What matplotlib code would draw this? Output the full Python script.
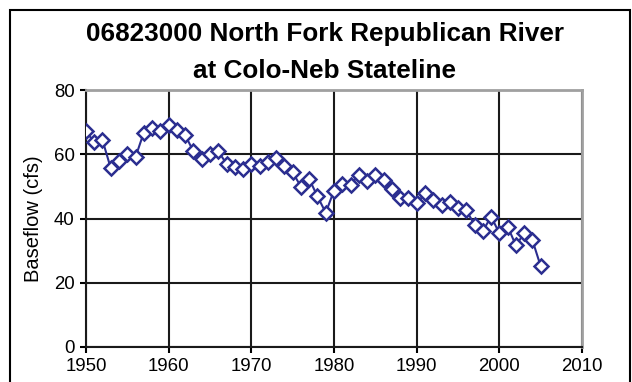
#!/usr/bin/env python3

import matplotlib
matplotlib.use("Agg")
import matplotlib.pyplot as plt
from matplotlib.patches import Rectangle

plt.rcParams["font.family"] = ["Liberation Sans", "DejaVu Sans"]

years = list(range(1950, 2006))
baseflow = [67.3, 63.7, 64.4, 55.7, 58.0, 60.2, 59.2, 66.8, 68.3, 67.3,
            69.1, 67.5, 66.0, 60.9, 58.5, 60.2, 60.9, 57.1, 56.1, 55.4,
            57.1, 56.4, 57.5, 58.8, 56.4, 54.4, 49.9, 52.3, 46.9, 41.8,
            48.7, 50.8, 50.5, 53.6, 51.6, 53.6, 52.1, 49.2, 46.4, 46.4,
            44.7, 47.8, 45.8, 44.2, 45.1, 43.3, 42.5, 38.1, 36.1, 40.6,
            35.4, 37.5, 31.6, 35.4, 33.2, 25.1]
xticks = [1950, 1960, 1970, 1980, 1990, 2000, 2010]
yticks = [0, 20, 40, 60, 80]

fig = plt.figure(figsize=(6.32, 3.82), dpi=100)
ax = fig.add_axes([0.136, 0.092, 0.785, 0.672])

# outer chart frame (bottom edge falls off the image)
fig.patches.append(Rectangle((10 / 632, -0.05), 620 / 632, 1.05 - 10 / 382,
                             transform=fig.transFigure, fill=False,
                             edgecolor="black", linewidth=1.5))

ax.plot(years, baseflow, color="#2b2e90", linewidth=1.5, marker="D",
        markersize=7, markerfacecolor="white", markeredgecolor="#2b2e90",
        markeredgewidth=1.8, zorder=3)

ax.set_xlim(1950, 2010)
ax.set_ylim(0, 80)
ax.set_xticks(xticks)
ax.set_yticks(yticks)
ax.grid(True, color="#1a1a1a", linewidth=1.5)
ax.set_axisbelow(True)
ax.tick_params(labelsize=13.4, length=4, width=1.5, direction="out", pad=4)
for side in ("left", "bottom"):
    ax.spines[side].set_color("#1a1a1a")
    ax.spines[side].set_linewidth(1.5)
for side in ("top", "right"):
    ax.spines[side].set_color("#a0a0a0")
    ax.spines[side].set_linewidth(2)

ax.set_ylabel("Baseflow (cfs)", fontsize=14.5, labelpad=8)
fig.text(0.514, 0.911, "06823000 North Fork Republican River",
         ha="center", va="center", fontsize=18.8, fontweight="bold")
fig.text(0.514, 0.814, "at Colo-Neb Stateline",
         ha="center", va="center", fontsize=18.8, fontweight="bold")

fig.savefig("out.png", dpi=100)
